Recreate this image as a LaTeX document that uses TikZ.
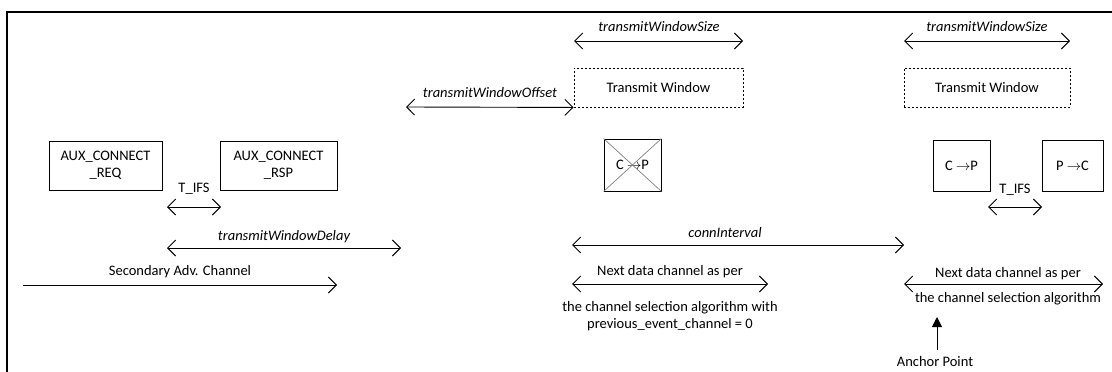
\documentclass[tikz,border=0pt]{standalone}
\usepackage{fontspec}
\setmainfont{Carlito}
\usetikzlibrary{arrows.meta}
\begin{document}
\begin{tikzpicture}[x=1pt,y=-1pt,
  every node/.style={font=\fontsize{14.5}{17}\selectfont, inner sep=0pt},
  box/.style={draw, line width=0.9pt, align=center},
  twbox/.style={draw, line width=0.9pt, dash pattern=on 2pt off 2pt},
  dim/.style={line width=0.9pt, {Straight Barb[length=8pt,width=16pt]}-{Straight Barb[length=8pt,width=16pt]}},
  fwd/.style={line width=0.9pt, -{Straight Barb[length=8pt,width=16pt]}},
  lbl/.style={font=\fontsize{14.5}{17}\selectfont\itshape},
  ]
\useasboundingbox (0,0) rectangle (1112,372);
% frame
\draw[line width=2.5pt] (7,373) -- (7,12) -- (1113,12);

% boxes
\node[box, minimum width=113pt, minimum height=49pt] (req) at (105.5,165.5) {AUX\_CONNECT\\\_REQ};
\node[box, minimum width=117pt, minimum height=49pt] (rsp) at (278.5,165.5) {AUX\_CONNECT\\\_RSP};
\node[twbox, minimum width=169pt, minimum height=39pt] (tw1) at (658.5,87.5) {Transmit Window};
\node[twbox, minimum width=166pt, minimum height=39pt] (tw2) at (987,87.5) {Transmit Window};
\node[box, minimum width=57pt, minimum height=52pt] (cp1) at (632.5,165) {C $\rightarrow$P};
\draw[gray, line width=0.7pt] (cp1.north west) -- (cp1.south east) (cp1.north east) -- (cp1.south west);
\node[box, minimum width=57pt, minimum height=51pt] (cp2) at (961.5,165.5) {C $\rightarrow$P};
\node[box, minimum width=61pt, minimum height=51pt] (pc) at (1072.5,165.5) {P $\rightarrow$C};

% coordinates
\coordinate (ifsA) at (167,207);
\coordinate (ifsB) at (221,207);
\coordinate (twdA) at (167,248);
\coordinate (twdB) at (401,248);
\coordinate (secA) at (23,285);
\coordinate (secB) at (337,285);
\coordinate (twsA) at (574,41);
\coordinate (twsB) at (743,41);
\coordinate (twoA) at (406,107);
\coordinate (twsC) at (904,41);
\coordinate (twsD) at (1070,41);
\coordinate (ciA) at (572,245);
\coordinate (ciB) at (904,245);
\coordinate (ndA) at (572,284);
\coordinate (ndB) at (768,284);
\coordinate (ndC) at (904,284);
\coordinate (ndD) at (1103,284);
\coordinate (ifsC) at (988,207);
\coordinate (ifsD) at (1042,207);
\coordinate (apB) at (937,350);
\coordinate (apT) at (937,317);

% dimension arrows
\draw[dim] (ifsA) -- (ifsB);
\node (tifs1) at (194,189) {T\_IFS};
\draw[dim] (twdA) -- (twdB);
\node[lbl] (twdl) at (284,237) {transmitWindowDelay};
\draw[fwd] (secA) -- (secB);
\node (secl) at (180,272) {Secondary Adv. Channel};

\draw[dim] (twsA) -- (twsB);
\node[lbl] (tws1l) at (659,27) {transmitWindowSize};
\draw[dim] (twoA) -- (tw1.south west);
\node[lbl] (twol) at (490,93) {transmitWindowOffset};

\draw[dim] (twsC) -- (twsD);
\node[lbl] (tws2l) at (987,27) {transmitWindowSize};

\draw[dim] (ciA) -- (ciB);
\node[lbl] (cil) at (725,233) {connInterval};

\draw[dim] (ndA) -- (ndB);
\node (nd1l) at (670,272) {Next data channel as per};
\node[align=center] (nd1m) at (670,316) {the channel selection algorithm with\\previous\_event\_channel = 0};

\draw[dim] (ndC) -- (ndD);
\node (nd2l) at (1008,274) {Next data channel as per};
\node (nd2m) at (1008,299) {the channel selection algorithm};

\draw[dim] (ifsC) -- (ifsD);
\node (tifs2) at (1015,190) {T\_IFS};

\draw[line width=0.9pt, -{Triangle[length=10pt,width=10pt]}] (apB) -- (apT);
\node (apl) at (935,362) {Anchor Point};
\end{tikzpicture}
\end{document}
